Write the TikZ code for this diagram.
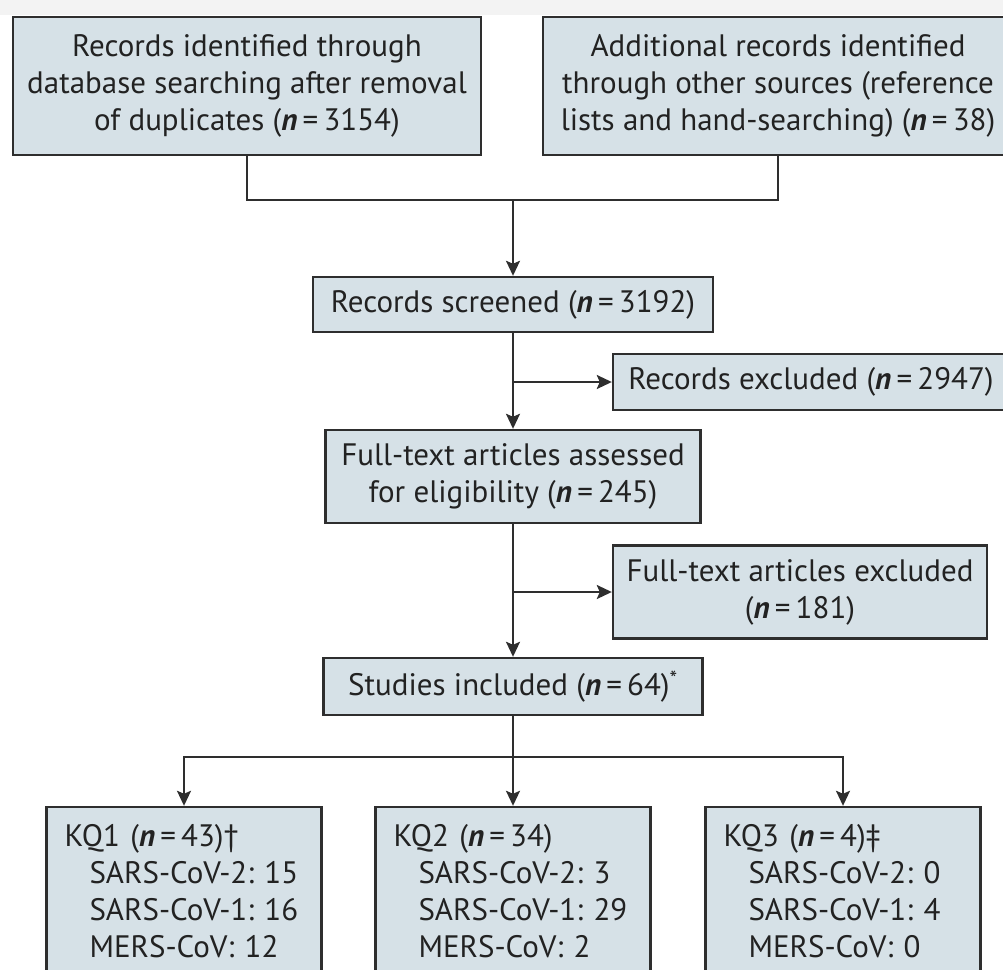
\documentclass[tikz,border=0pt]{standalone}
\usepackage{fontspec}
\setmainfont{PT Sans}
\usepackage{tikz}
\usetikzlibrary{shapes,arrows.meta,positioning,calc}
\usepackage{xcolor}
\definecolor{boxfill}{HTML}{D6E1E7}
\definecolor{boxedge}{HTML}{2E2E2E}
\definecolor{ink}{HTML}{222222}
\definecolor{band}{HTML}{F3F3F3}
\frenchspacing
\newcommand{\nvar}{\textbf{\textit{n}}}
\tikzset{
    block/.style={rectangle, draw=boxedge, fill=boxfill, text=ink, align=center, inner sep=0pt, line width=2.4pt, font=\fontsize{31}{37}\selectfont},
    kqbox/.style={block, align=left, inner xsep=18pt, text width=239pt, minimum height=168pt},
    line/.style={draw=boxedge, -{Stealth[length=15pt,width=14pt,inset=3pt]}, line width=2.2pt},
    link/.style={draw=boxedge, line width=2.2pt}
}

\begin{document}
\begin{tikzpicture}[x=1pt, y=-1pt]
    \useasboundingbox (0,0) rectangle (1003,969);
    \clip (0,0) rectangle (1003,969);
    \fill[band] (0,0) rectangle (1003,15);

    % identification
    \node [block, minimum width=468pt, minimum height=138pt] (ident) at (247,86) {Records identified through\\database searching after removal\\of duplicates (\nvar\,=\,3154)};
    \node [block, minimum width=470pt, minimum height=138pt] (other) at (778,86) {Additional records identified\\through other sources (reference\\lists and hand-searching) (\nvar\,=\,38)};

    % screening and eligibility
    \node [block, minimum width=400pt, minimum height=55pt] (screened) at (513,304.5) {Records screened (\nvar\,=\,3192)};
    \node [block, minimum width=396pt, minimum height=56pt] (recexcl) at (811,382) {Records excluded (\nvar\,=\,2947)};
    \node [block, below of=screened, node distance=172pt, minimum width=375pt, minimum height=93pt] (assessed) {Full-text articles assessed\\for eligibility (\nvar\,=\,245)};
    \node [block, minimum width=374pt, minimum height=93pt] (ftexcl) at (800,592) {Full-text articles excluded\\(\nvar\,=\,181)};
    \node [block, below of=assessed, node distance=210pt, minimum width=379pt, minimum height=57pt] (studies) {Studies included (\nvar\,=\,64)\textsuperscript{*}};

    % key questions
    \node [kqbox, below of=studies, node distance=204.5pt] (kqtwo) {KQ2 (\nvar\,=\,34)\\\hspace*{25pt}SARS-CoV-2: 3\\\hspace*{25pt}SARS-CoV-1: 29\\\hspace*{25pt}MERS-CoV: 2};
    \node [kqbox, left of=kqtwo, node distance=329pt] (kqone) {KQ1 (\nvar\,=\,43)†\\\hspace*{25pt}SARS-CoV-2: 15\\\hspace*{25pt}SARS-CoV-1: 16\\\hspace*{25pt}MERS-CoV: 12};
    \node [kqbox, right of=kqtwo, node distance=330pt] (kqthree) {KQ3 (\nvar\,=\,4)‡\\\hspace*{25pt}SARS-CoV-2: 0\\\hspace*{25pt}SARS-CoV-1: 4\\\hspace*{25pt}MERS-CoV: 0};

    \coordinate (merge) at (513,200);
    \coordinate (cutone) at (513,382);
    \coordinate (cuttwo) at (513,592);
    \coordinate (split) at (513,757);

    \path [link] (ident.south) |- (merge) -| (other.south);
    \path [line] (merge) -- (screened);
    \path [line] (screened) -- (assessed);
    \path [line] (cutone) -- (recexcl);
    \path [line] (assessed) -- (studies);
    \path [line] (cuttwo) -- (ftexcl);
    \path [link] (studies) -- (split);
    \path [line] (split) -- (kqtwo);
    \path [line] (split) -| (kqone);
    \path [line] (split) -| (kqthree);
\end{tikzpicture}
\end{document}
